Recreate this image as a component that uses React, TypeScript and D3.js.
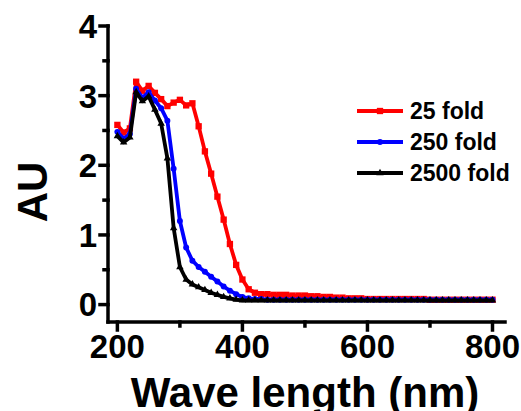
import React from 'react'
import * as d3 from 'd3'

// wavelength grid (nm)
const wavelengths = [
  200, 210, 220, 230, 240, 250, 260, 270, 280, 290,
  300, 310, 320, 330, 340, 350, 360, 370, 380, 390,
  400, 410, 420, 430, 440, 450, 460, 470, 480, 490,
  500, 510, 520, 530, 540, 550, 560, 570, 580, 590,
  600, 610, 620, 630, 640, 650, 660, 670, 680, 690,
  700, 710, 720, 730, 740, 750, 760, 770, 780, 790, 800,
]

const fold25 = [
  2.58, 2.47, 2.53, 3.2, 3.07, 3.14, 3.04, 2.95, 2.85, 2.9,
  2.94, 2.86, 2.89, 2.56, 2.2, 1.88, 1.55, 1.22, 0.87, 0.57,
  0.36, 0.22, 0.17, 0.15, 0.15, 0.14, 0.14, 0.14, 0.13, 0.13,
  0.13, 0.12, 0.12, 0.11, 0.11, 0.1, 0.1, 0.09, 0.09, 0.09,
  0.08, 0.08, 0.08, 0.08, 0.08, 0.08, 0.08, 0.08, 0.08, 0.08,
  0.07, 0.07, 0.07, 0.07, 0.07, 0.07, 0.07, 0.07, 0.07, 0.07, 0.07,
]

const fold250 = [
  2.48, 2.38, 2.45, 3.1, 2.97, 3.05, 2.93, 2.82, 2.64, 1.95,
  1.2, 0.82, 0.63, 0.54, 0.47, 0.4, 0.33, 0.26, 0.2, 0.15,
  0.11, 0.09, 0.08, 0.08, 0.07, 0.07, 0.07, 0.07, 0.07, 0.07,
  0.07, 0.07, 0.07, 0.07, 0.07, 0.07, 0.07, 0.07, 0.07, 0.07,
  0.07, 0.07, 0.07, 0.07, 0.07, 0.07, 0.07, 0.07, 0.07, 0.07,
  0.07, 0.07, 0.07, 0.07, 0.07, 0.07, 0.07, 0.07, 0.07, 0.07, 0.07,
]

const fold2500 = [
  2.42, 2.33, 2.4, 3.05, 2.92, 2.99, 2.8, 2.6, 2.1, 1.1,
  0.54, 0.36, 0.29, 0.25, 0.21, 0.17, 0.14, 0.11, 0.09, 0.07,
  0.06, 0.06, 0.06, 0.06, 0.06, 0.06, 0.06, 0.06, 0.06, 0.06,
  0.06, 0.06, 0.06, 0.06, 0.06, 0.06, 0.06, 0.06, 0.06, 0.06,
  0.06, 0.06, 0.06, 0.06, 0.06, 0.06, 0.06, 0.06, 0.06, 0.06,
  0.06, 0.06, 0.06, 0.06, 0.06, 0.06, 0.06, 0.06, 0.06, 0.06, 0.06,
]

const seriesNames = ['25 fold', '250 fold', '2500 fold']
const seriesColors = ['#ff0000', '#0000ff', '#000000']
const seriesSymbols = [d3.symbolSquare, d3.symbolCircle, d3.symbolTriangle]

const xTicks = [200, 400, 600, 800]
const xMinorTicks = [300, 500, 700]
const yTicks = [0, 1, 2, 3, 4]
const yMinorTicks = [0.5, 1.5, 2.5, 3.5]

const FONT = '"Liberation Sans", Arial, sans-serif'

export default function App() {
  const W = 521
  const H = 411
  const x = d3.scaleLinear().domain([185, 820]).range([108, 505])
  const y = d3.scaleLinear().domain([-0.25, 4]).range([322, 26])

  const allSeries = [fold25, fold250, fold2500]
  const line = d3
    .line<number>()
    .x((d, i) => x(wavelengths[i]))
    .y(d => y(d))

  const symbolSizes = [40, 28, 24]

  return (
    <svg
      width={W}
      height={H}
      style={{ position: 'absolute', left: 0, top: 0, background: '#fff' }}
      fontFamily={FONT}
      fontWeight="bold"
    >
      {allSeries.map((vals, s) => (
        <g key={seriesNames[s]}>
          <path
            d={line(vals) || ''}
            fill="none"
            stroke={seriesColors[s]}
            strokeWidth={3.8}
            strokeLinejoin="round"
          />
          {vals.map((v, i) => (
            <path
              key={i}
              transform={`translate(${x(wavelengths[i])},${y(v)})`}
              d={d3.symbol().type(seriesSymbols[s]).size(symbolSizes[s])() || ''}
              fill={seriesColors[s]}
            />
          ))}
        </g>
      ))}

      {/* axes */}
      <g stroke="#000" strokeWidth={3.5} strokeLinecap="square">
        <line x1={108} x2={108} y1={y(4)} y2={322} />
        <line x1={108} x2={505} y1={322} y2={322} />
        {yTicks.map(t => (
          <line key={'yt' + t} x1={100} x2={108} y1={y(t)} y2={y(t)} />
        ))}
        {yMinorTicks.map(t => (
          <line key={'ym' + t} x1={104} x2={108} y1={y(t)} y2={y(t)} />
        ))}
        {xTicks.map(t => (
          <line key={'xt' + t} x1={x(t)} x2={x(t)} y1={322} y2={330} />
        ))}
        {xMinorTicks.map(t => (
          <line key={'xm' + t} x1={x(t)} x2={x(t)} y1={322} y2={326} />
        ))}
      </g>

      {yTicks.map(t => (
        <text key={'yl' + t} x={97} y={y(t)} dy="0.36em" textAnchor="end" fontSize={33}>
          {t}
        </text>
      ))}
      {xTicks.map(t => (
        <text key={'xl' + t} x={x(t)} y={358} textAnchor="middle" fontSize={33}>
          {t}
        </text>
      ))}

      <text
        transform="translate(47,192) rotate(-90)"
        textAnchor="middle"
        fontSize={42}
      >
        AU
      </text>
      <text x={305} y={407} textAnchor="middle" fontSize={42}>
        Wave length (nm)
      </text>

      {/* legend */}
      {seriesNames.map((name, s) => {
        const ly = 111 + s * 31
        return (
          <g key={'lg' + name}>
            <line x1={357} x2={403} y1={ly} y2={ly} stroke={seriesColors[s]} strokeWidth={3.8} />
            <path
              transform={`translate(380,${ly})`}
              d={d3.symbol().type(seriesSymbols[s]).size(symbolSizes[s])() || ''}
              fill={seriesColors[s]}
            />
            <text x={410} y={ly} dy="0.36em" fontSize={23}>
              {name}
            </text>
          </g>
        )
      })}
    </svg>
  )
}
